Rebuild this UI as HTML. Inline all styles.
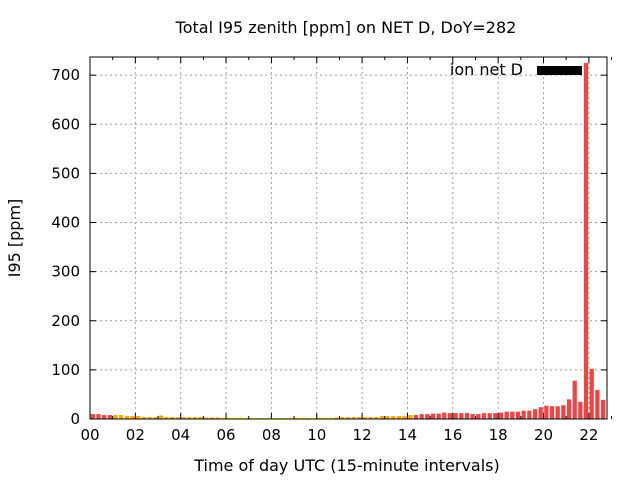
<!DOCTYPE html>
<html><head><meta charset="utf-8"><style>
body{margin:0;background:#fff}
svg text{font-family:"DejaVu Sans","Liberation Sans",sans-serif;fill:#000}
</style></head><body>
<svg id="c" width="640" height="480" xmlns="http://www.w3.org/2000/svg">
<rect width="640" height="480" fill="#fff"/>
<text x="346" y="33" font-size="16" text-anchor="middle">Total I95 zenith [ppm] on NET D, DoY=282</text>
<text x="347" y="471" font-size="16" text-anchor="middle">Time of day UTC (15-minute intervals)</text>
<text transform="translate(20,238) rotate(-90)" font-size="16" text-anchor="middle">I95 [ppm]</text>
<g id="grid"></g><g id="bars"></g><g id="axes"></g>
<text x="523" y="75" font-size="16" text-anchor="end">ion net D</text>
<rect x="537" y="66" width="45" height="9" fill="#000"/>
</svg>
<script>
const values=[10,10,8,8,8,8,6,6, 6,4,4,4,7,4,4,4, 4,4,4,4,3,3,3,3, 3,3,3,2,2,2,2,2, 2,2,2,3,3,3,2,2, 3,3,3,3,4,4,4,4,4,4,4,6,6,6,6,6,
8,8,10,10,11,11,13,12,12,12,12,10,10,12,12,12,13,15,15,15,17,17,20,24,27,26,26,28,40,78,35,725,102,59,39,40];
const colorCats="rrrroooooooooooooooooooyyyyyyyyyyyyyyyyyyyyoooooooooooooorrrrrrrrrrrrrrrrrrrrrrrrrrrrrrrrrrr";
const xTicks=["00","02","04","06","08","10","12","14","16","18","20","22"];
const yTicks=[0,100,200,300,400,500,600,700];
const L=90,R=607,T=57,B=419,XMAX=22.8,YMAX=737;
const X=h=>L+h/XMAX*(R-L), Y=v=>B-v/YMAX*(B-T);
const NS="http://www.w3.org/2000/svg";
function mk(p,tag,a){const e=document.createElementNS(NS,tag);for(const k in a)e.setAttribute(k,a[k]);p.appendChild(e);return e;}
const cols={r:"#ee4444",o:"#ffa500",y:"#ffff00"};
const g=document.getElementById('grid'),bg=document.getElementById('bars'),ax=document.getElementById('axes');
yTicks.forEach(v=>{
 if(v>0){const l=mk(g,'line',{x1:L,x2:R,y1:Y(v),y2:Y(v),stroke:'#a0a0a0','stroke-dasharray':'2,3'});
 
 }
 mk(ax,'line',{x1:L,x2:L+6,y1:Y(v),y2:Y(v),stroke:'#000'});
 mk(ax,'line',{x1:R,x2:R-6,y1:Y(v),y2:Y(v),stroke:'#000'});
 const t=mk(ax,'text',{x:L-10,y:Y(v)+5,'font-size':15,'text-anchor':'end'});t.textContent=v;
 
 
});
xTicks.forEach(s=>{const h=+s,x=X(h);
 if(h>0){const l=mk(g,'line',{x1:x,x2:x,y1:T,y2:B,stroke:'#a0a0a0','stroke-dasharray':'2,3'});
 
 }
 mk(ax,'line',{x1:x,x2:x,y1:B,y2:B-6,stroke:'#000'});
 mk(ax,'line',{x1:x,x2:x,y1:T,y2:T+6,stroke:'#000'});
 mk(ax,'line',{x1:X(h+1),x2:X(h+1),y1:B,y2:B-3,stroke:'#000'});
 mk(ax,'line',{x1:X(h+1),x2:X(h+1),y1:T,y2:T+3,stroke:'#000'});
 const t=mk(ax,'text',{x:x,y:B+21,'font-size':15,'text-anchor':'middle'});t.textContent=s;
 
 
});
const bw=(X(0.25)-X(0))*0.75;
values.forEach((v,i)=>{const c=X(i*0.25+0.125);
 if(c-bw/2>=R)return;
 const top=Math.max(Y(v),T);
 const w=Math.min(bw,R-(c-bw/2));
 const r=mk(bg,'rect',{x:c-bw/2,y:top,width:w,height:B-top,fill:cols[colorCats[i]]||cols.r});
 
 
});
const f=mk(ax,'rect',{x:L,y:T,width:R-L,height:B-T,fill:'none',stroke:'#000','stroke-width':1});


</script>
</body></html>
